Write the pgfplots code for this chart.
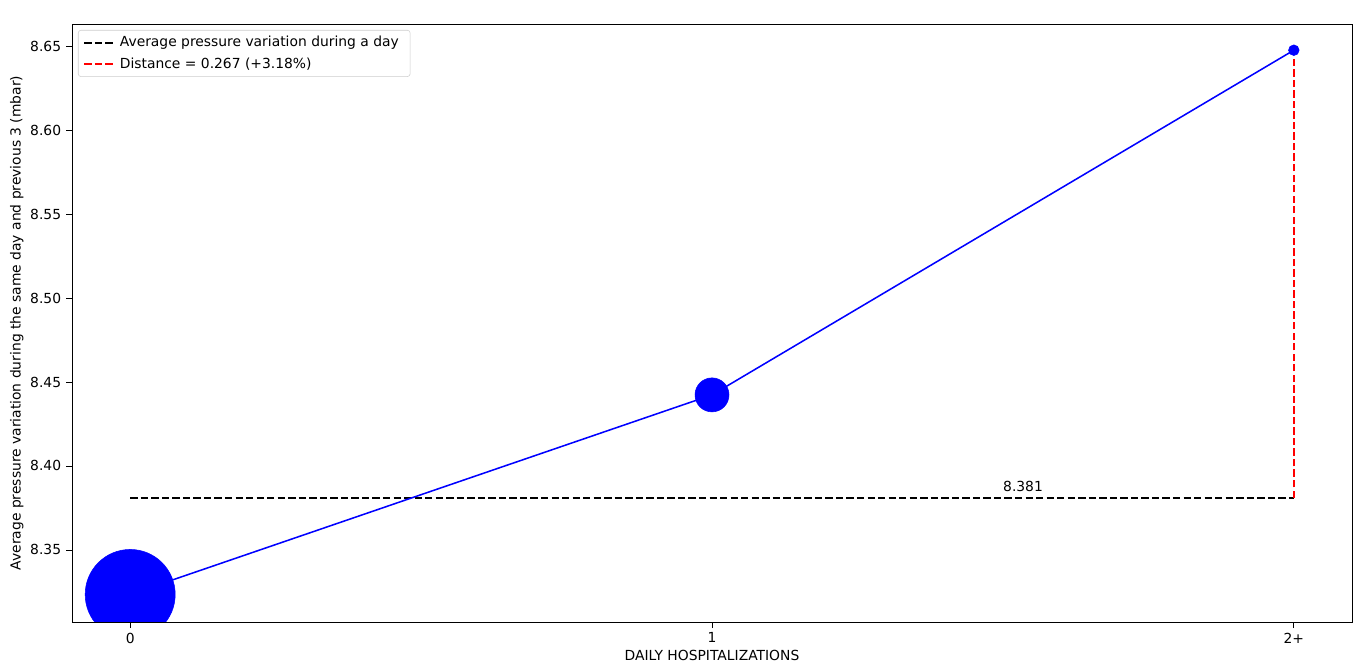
\documentclass[border=0pt]{standalone}
\usepackage{pgfplots}
\pgfplotsset{compat=1.18}
\usepackage{fontspec}
\setmainfont{DejaVu Sans}
\begin{document}
\fontsize{10.4pt}{12.5pt}\selectfont
\begin{tikzpicture}
\begin{axis}[
  at={(0,0)}, anchor=south west,
  width=960pt, height=448.5pt, scale only axis,
  xmin=-0.1, xmax=2.1, ymin=8.3071, ymax=8.6631,
  xtick={0,1,2}, xticklabels={0,1,2+},
  ytick={8.35,8.40,8.45,8.50,8.55,8.60,8.65},
  yticklabel style={/pgf/number format/.cd, fixed, fixed zerofill, precision=2},
  /pgf/number format/assume math mode=true,
  tick align=outside, axis x line*=bottom, axis y line*=left,
  tick style={black, line width=0.6pt}, major tick length=4.5pt,
  axis line style={line width=0.6pt},
  separate axis lines,
  every axis x line/.append style={-}, every axis y line/.append style={-},
  xlabel={DAILY HOSPITALIZATIONS}, ylabel={Average pressure variation during the same day and previous 3 (mbar)},
  xlabel style={yshift=2pt}, ylabel style={yshift=-2pt},
  clip marker paths=true,
  legend image code/.code={\draw[#1, line width=1.2pt] (0pt,0pt) -- (21.5pt,0pt);},
  legend style={at={(0,1)}, anchor=north west, xshift=4.5pt, yshift=-4.5pt, draw=black!20, rounded corners=2pt, font=\fontsize{10.4pt}{12.5pt}\selectfont, row sep=4.58pt, inner xsep=4pt, inner ysep=3.6pt,
    nodes={inner xsep=4.5pt, inner ysep=1pt}},
  legend cell align=left,
]
\addplot[black, dash pattern=on 5.5pt off 2.4pt, line width=1.1pt] coordinates {(0,8.381) (2,8.381)};
\addlegendentry{Average pressure variation during a day}
\addplot[red, dash pattern=on 5.5pt off 2.4pt, line width=1.1pt] coordinates {(2,8.381) (2,8.648)};
\addlegendentry{Distance = 0.267 (+3.18\%)}
\addplot[blue, line width=1.15pt, forget plot] coordinates {(0,8.3235) (1,8.4423) (2,8.6475)};
\addplot[blue, only marks, mark=*, mark size=33.75pt, mark options={draw=none, fill=blue}, forget plot] coordinates {(0,8.3235)};
\addplot[blue, only marks, mark=*, mark size=12.75pt, mark options={draw=none, fill=blue}, forget plot] coordinates {(1,8.4423)};
\addplot[blue, only marks, mark=*, mark size=4pt, mark options={draw=none, fill=blue}, forget plot] coordinates {(2,8.6475)};
\node[anchor=base west, inner sep=0pt] at (axis cs:1.5,8.381) [yshift=5pt] {8.381};
\end{axis}
\draw[line width=0.6pt] (0,0) rectangle (960pt,448.5pt);
\pgfresetboundingbox
\path[use as bounding box] (-54pt,-36.75pt) rectangle (970.5pt,466.5pt);
\end{tikzpicture}
\end{document}
